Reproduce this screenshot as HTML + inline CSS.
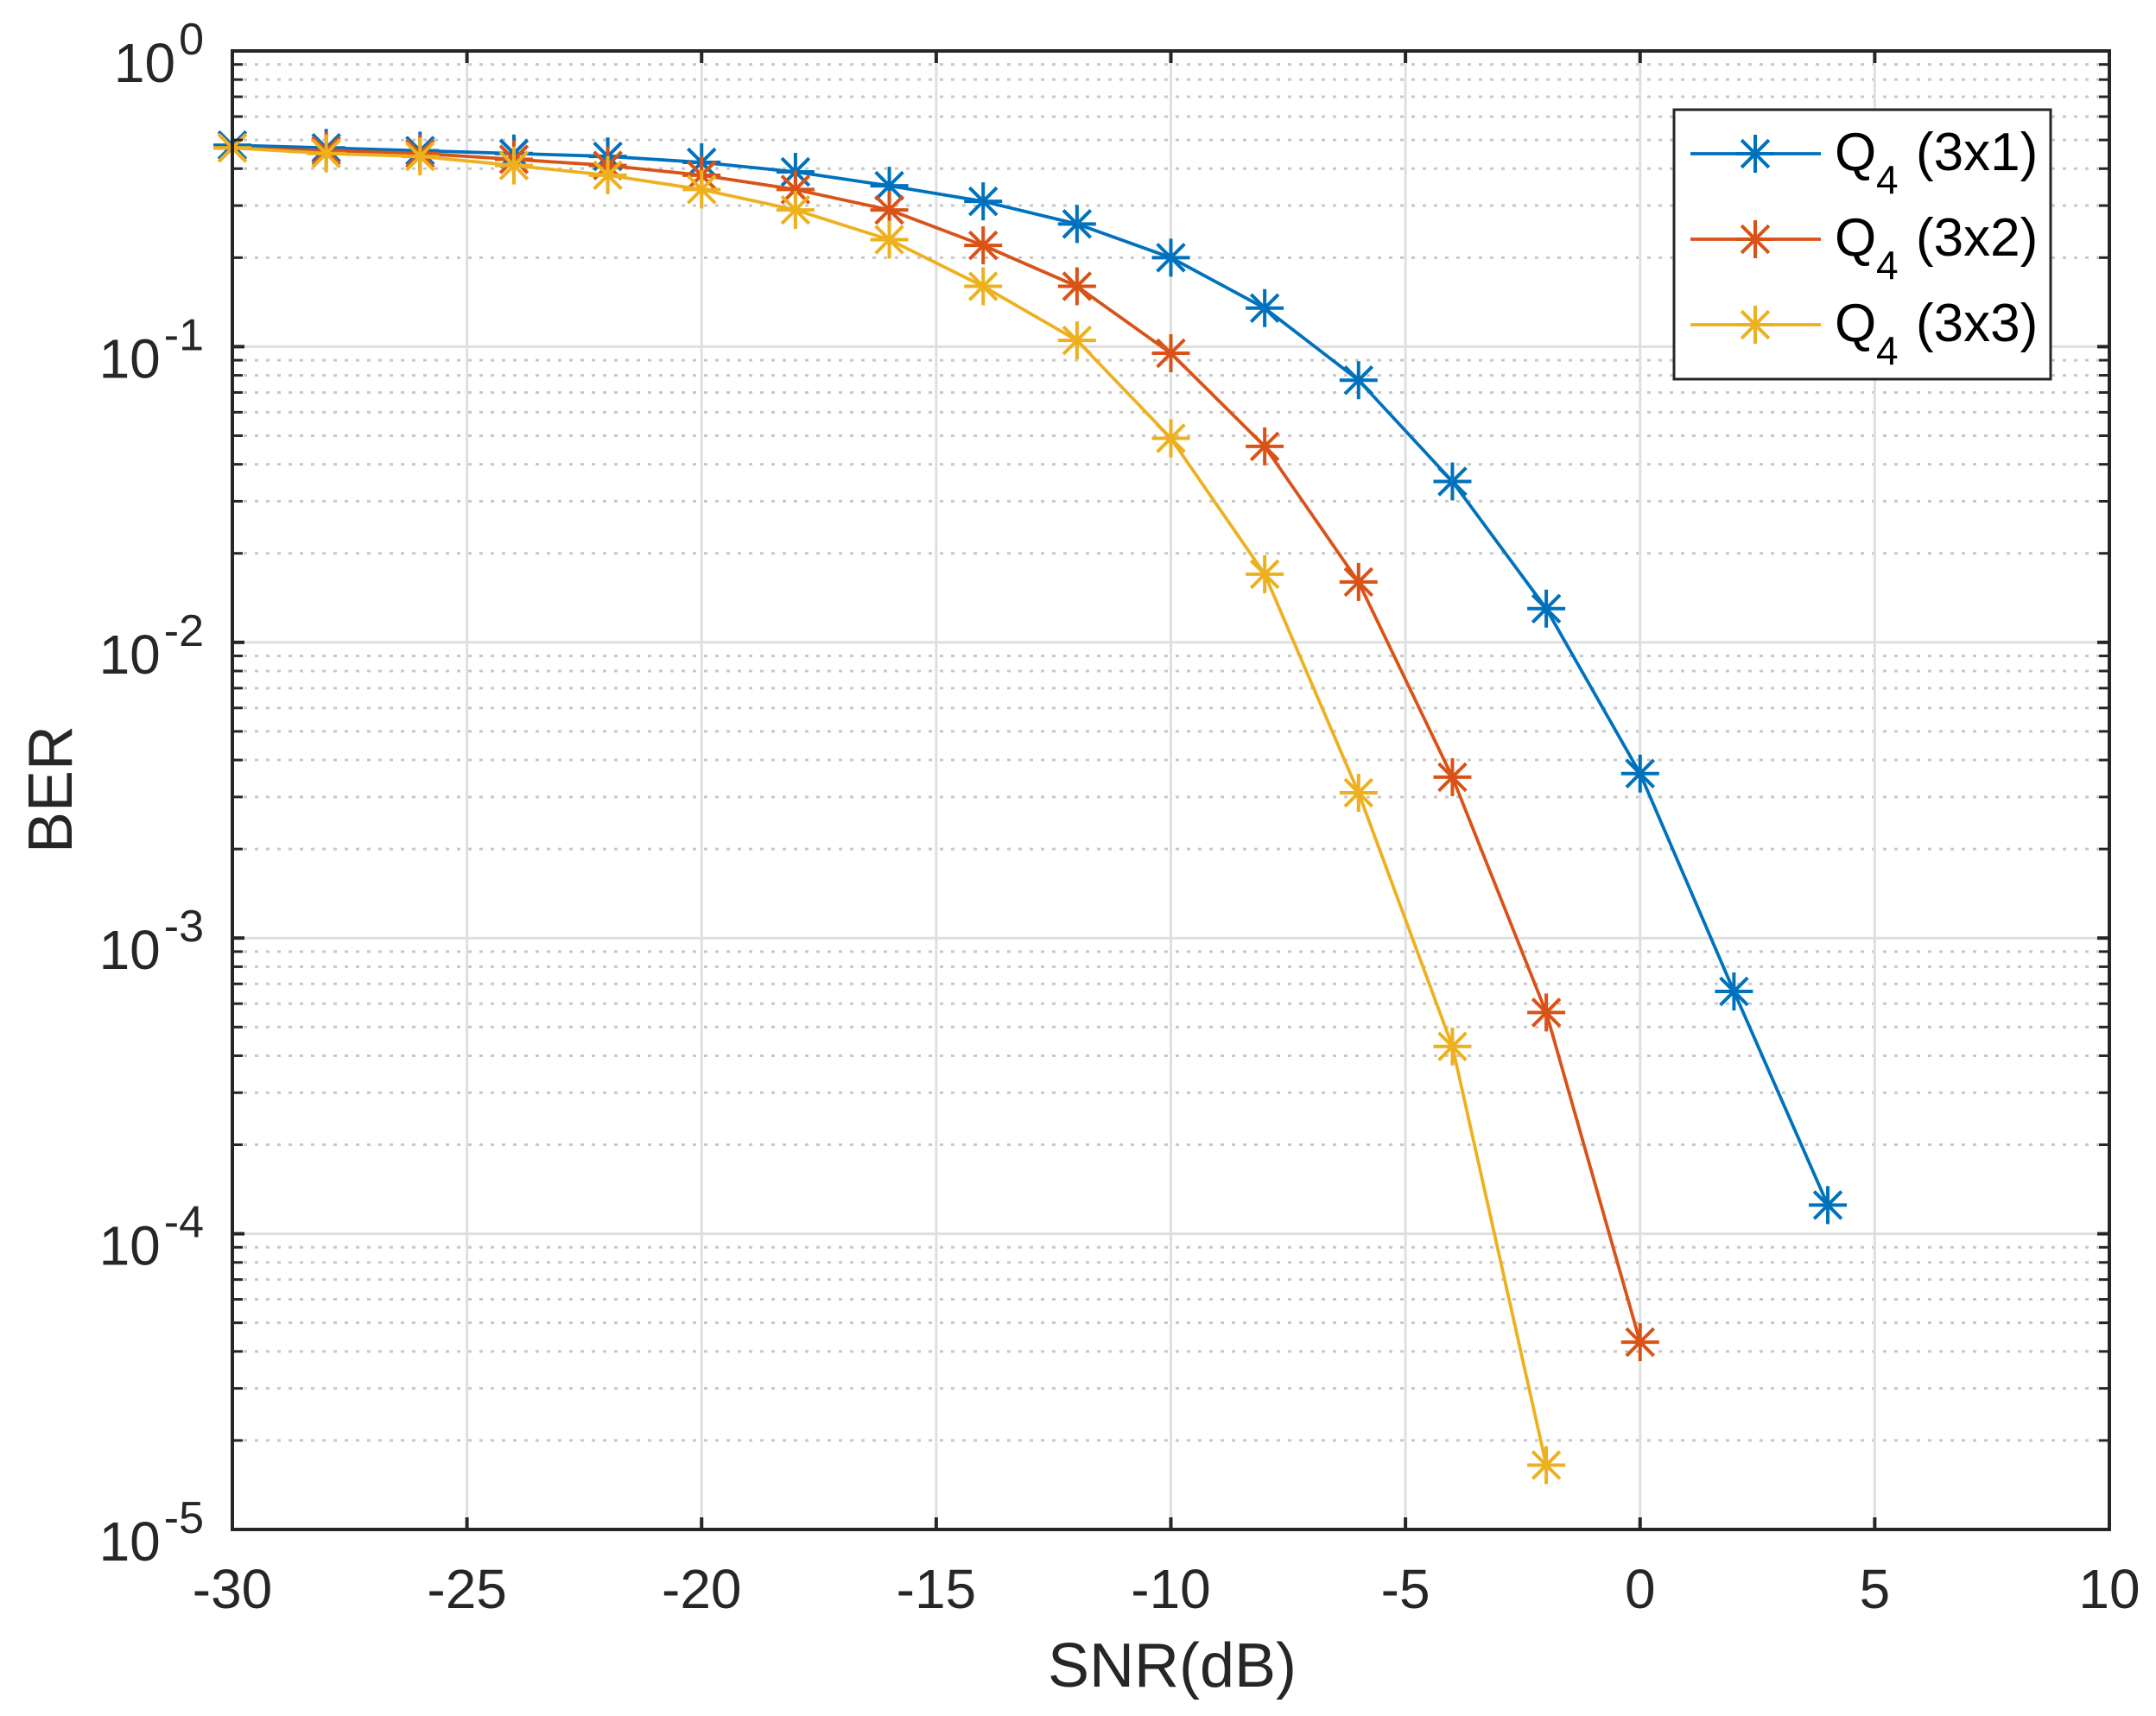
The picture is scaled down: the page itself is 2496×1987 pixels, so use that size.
<!DOCTYPE html>
<html><head><meta charset="utf-8"><style>
html,body{margin:0;padding:0;background:#fff;}
svg{display:block;font-family:"Liberation Sans",Arial,sans-serif;}
</style></head><body>
<svg id="s" width="2496" height="1987" viewBox="0 0 2496 1987" xmlns="http://www.w3.org/2000/svg">
<rect width="2496" height="1987" fill="#fff"/>
<g id="grid"></g><g id="series"></g><g id="axes"></g>
<g id="legend">
<rect x="1938" y="127" width="436" height="312" fill="#fff" stroke="#262626" stroke-width="3"/>
</g>
</svg>
<script>
var NS="http://www.w3.org/2000/svg";
var L=269,R=2442,T=59,B=1771;
function X(v){return L+(v+30)/40*(R-L);}
function Y(v){return T+(0-Math.log10(v))/5*(B-T);}
function el(p,n,a,t){var e=document.createElementNS(NS,n);for(var k in a)e.setAttribute(k,a[k]);if(t!==undefined)e.textContent=t;document.getElementById(p).appendChild(e);return e;}
for(var d=0;d<5;d++){for(var m=2;m<=9;m++){var y=Y(Math.pow(10,-d-1)*m);
el("grid","line",{x1:L,x2:R,y1:y,y2:y,stroke:"#c8c8c8","stroke-width":3,"stroke-dasharray":"4 9"});}}
for(var d=1;d<5;d++){var y=Y(Math.pow(10,-d));el("grid","line",{x1:L,x2:R,y1:y,y2:y,stroke:"#dfdfdf","stroke-width":3});}
for(var v=-25;v<10;v+=5){var x=X(v);el("grid","line",{x1:x,x2:x,y1:T,y2:B,stroke:"#dfdfdf","stroke-width":3});}
var xs=[];for(var v=-30;v<=4;v+=2)xs.push(v);
var S=[["#0072BD",[.48,.47,.46,.45,.44,.42,.39,.35,.31,.26,.2,.135,.077,.035,.013,.0036,.00066,.000125]],
["#D95319",[.47,.46,.45,.43,.41,.38,.34,.29,.22,.16,.095,.046,.016,.0035,.00056,.000043]],
["#EDB120",[.47,.45,.44,.41,.38,.34,.29,.23,.16,.105,.049,.017,.0031,.00043,.0000165]]];
function star(p,x,y,c){var r=22,q=r*0.72;
el(p,"path",{d:"M"+(x-r)+" "+y+"H"+(x+r)+"M"+x+" "+(y-r)+"V"+(y+r)+"M"+(x-q)+" "+(y-q)+"L"+(x+q)+" "+(y+q)+"M"+(x-q)+" "+(y+q)+"L"+(x+q)+" "+(y-q),stroke:c,"stroke-width":4,fill:"none"});}
S.forEach(function(s){var pts=s[1].map(function(v,i){return X(xs[i])+","+Y(v);});
el("series","polyline",{points:pts.join(" "),fill:"none",stroke:s[0],"stroke-width":3.8,"stroke-linejoin":"round"});
s[1].forEach(function(v,i){star("series",X(xs[i]),Y(v),s[0]);});});
el("axes","rect",{x:L,y:T,width:R-L,height:B-T,fill:"none",stroke:"#262626","stroke-width":4});
for(var v=-25;v<10;v+=5){var x=X(v);el("axes","line",{x1:x,x2:x,y1:B,y2:B-14,stroke:"#262626","stroke-width":4});el("axes","line",{x1:x,x2:x,y1:T,y2:T+14,stroke:"#262626","stroke-width":4});}
for(var v=-30;v<=10;v+=5){el("axes","text",{x:X(v),y:1862,"font-size":64,"text-anchor":"middle",fill:"#262626"},String(v));}
for(var d=0;d<=5;d++){var y=Y(Math.pow(10,-d));
if(d>0&&d<5){el("axes","line",{x1:L,x2:L+14,y1:y,y2:y,stroke:"#262626","stroke-width":4});el("axes","line",{x1:R,x2:R-14,y1:y,y2:y,stroke:"#262626","stroke-width":4});}
if(d<5)for(var m=2;m<=9;m++){var yy=Y(Math.pow(10,-d-1)*m);el("axes","line",{x1:L,x2:L+12,y1:yy,y2:yy,stroke:"#262626","stroke-width":3});el("axes","line",{x1:R,x2:R-12,y1:yy,y2:yy,stroke:"#262626","stroke-width":3});}
var sup=d==0?"0":"-"+d;
var t=el("axes","text",{x:236,y:y+4,"font-size":52,"text-anchor":"end",fill:"#262626"},sup);
var w=t.getComputedTextLength();
el("axes","text",{x:236-w-4,y:y+36,"font-size":64,"text-anchor":"end",fill:"#262626"},"10");}
el("axes","text",{x:1357,y:1953,"font-size":72,"text-anchor":"middle",fill:"#262626"},"SNR(dB)");
el("axes","text",{x:0,y:0,"font-size":72,"text-anchor":"middle",fill:"#262626",transform:"translate(83,914) rotate(-90)"},"BER");
var ly=[178,277,376],lab=["(3x1)","(3x2)","(3x3)"];
S.forEach(function(s,i){var y=ly[i];
el("legend","line",{x1:1957,x2:2108,y1:y,y2:y,stroke:s[0],"stroke-width":3.8});
star("legend",2032,y,s[0]);
el("legend","text",{x:2124,y:y+19,"font-size":62,fill:"#000"},"Q");
el("legend","text",{x:2172,y:y+46,"font-size":46,fill:"#000"},"4");
el("legend","text",{x:2218,y:y+19,"font-size":62,fill:"#000"},lab[i]);});
</script>
</body></html>
